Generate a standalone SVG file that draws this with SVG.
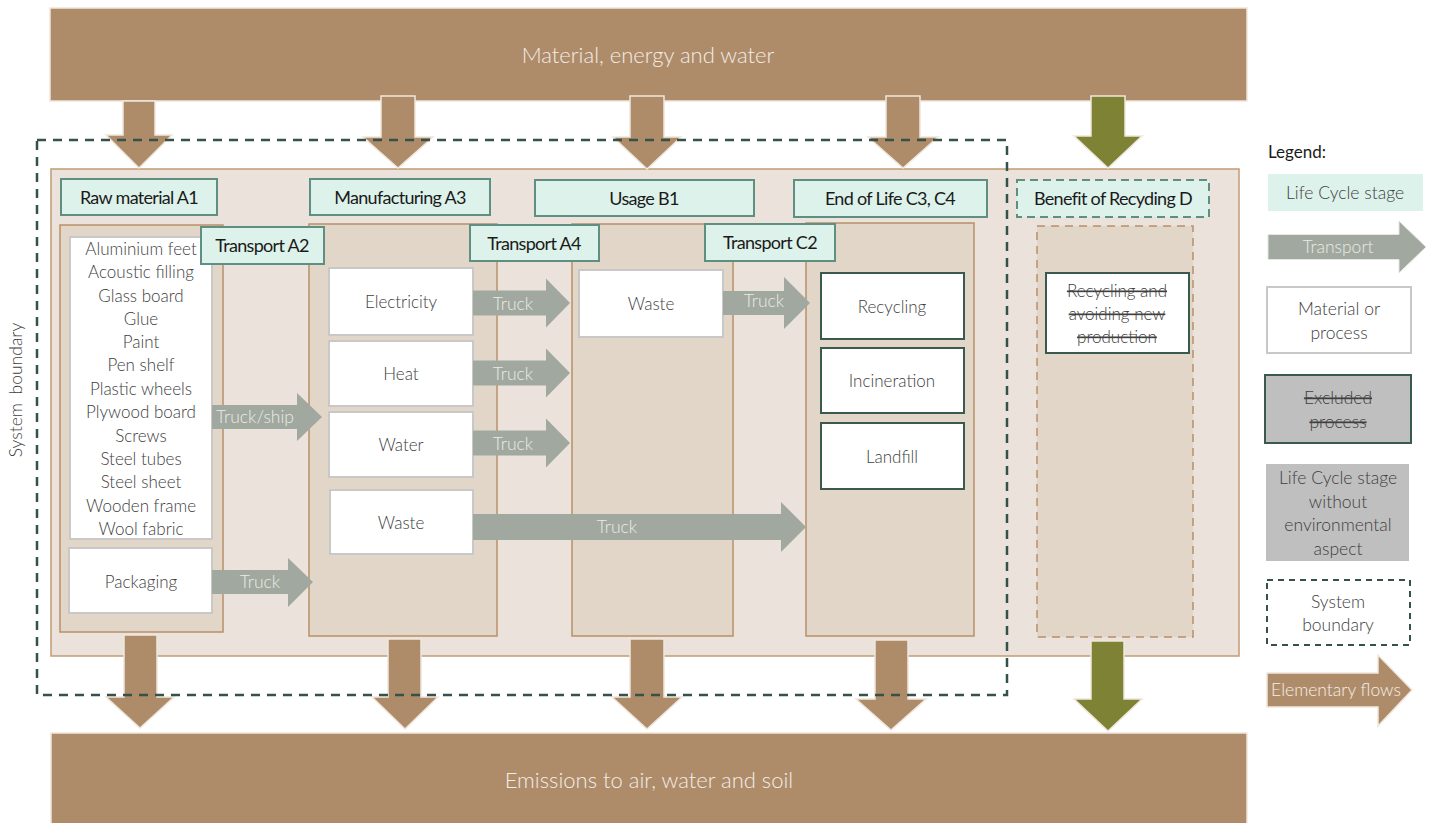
<svg xmlns="http://www.w3.org/2000/svg" width="1435" height="823" viewBox="0 0 1435 823">
<style>
.bar{fill:#AE8C6A;stroke:#EFE6DC;stroke-width:1.5}
.barTxt{font-family:Lato,"Open Sans","Liberation Sans",sans-serif;font-weight:300;font-size:22px;fill:#F3EDE6;text-anchor:middle}
.flow{fill:#AE8C6A;stroke:#F0E6DC;stroke-width:1.5}
.green{fill:#7E8235;stroke:#F0E6DC;stroke-width:1.5}
.truck{fill:#A1A89F}
.truckTxt{font-family:Lato,"Open Sans","Liberation Sans",sans-serif;font-weight:300;font-size:17.5px;fill:#E9ECE6;text-anchor:middle}
.outer{fill:#EAE2DB;stroke:#C19C74;stroke-width:1.5}
.col{fill:#E2D6C9;stroke:#B8906A;stroke-width:1.5}
.stage{fill:#DDF2EA;stroke:#5F8F80;stroke-width:2}
.stageTxt{font-family:Lato,"Open Sans","Liberation Sans",sans-serif;font-size:18px;fill:#1A1A1A;text-anchor:middle;letter-spacing:-0.7px}
.mat{fill:#FFFFFF;stroke:#C8C8C8;stroke-width:2}
.proc{fill:#FFFFFF;stroke:#3A5A4E;stroke-width:2}
.txt{font-family:Lato,"Open Sans","Liberation Sans",sans-serif;font-weight:300;font-size:17px;fill:#404040;text-anchor:middle}
.lg{font-size:17.5px}
.strike{text-decoration:line-through}
.boundary{fill:none;stroke:#35524A;stroke-width:2.5;stroke-dasharray:9 7}
</style>

<g id="top-bar">
<rect class="bar" x="50" y="8" width="1197" height="93"/>
<text class="barTxt" x="648" y="63">Material, energy and water</text>
</g>
<g id="bottom-bar">
<rect class="bar" x="51" y="733" width="1196" height="95"/>
<text class="barTxt" x="649" y="788">Emissions to air, water and soil</text>
</g>

<g id="main-panel">
<rect class="outer" x="51" y="169" width="1188" height="487"/>
</g>

<g id="col-a1"><rect class="col" x="60" y="225" width="163" height="407"/></g>
<g id="col-a3"><rect class="col" x="309" y="224" width="188" height="412"/></g>
<g id="col-b1"><rect class="col" x="572" y="224" width="161" height="412"/></g>
<g id="col-c"><rect class="col" x="806" y="223" width="168" height="413"/></g>
<g id="col-d"><rect class="col" x="1037" y="226" width="156" height="411" style="stroke-dasharray:8 6"/></g>

<g id="materials">
<rect class="mat" x="70" y="237" width="142" height="302"/>
<text class="txt" x="141" y="255">Aluminium feet</text>
<text class="txt" x="141" y="278">Acoustic filling</text>
<text class="txt" x="141" y="302">Glass board</text>
<text class="txt" x="141" y="325">Glue</text>
<text class="txt" x="141" y="348">Paint</text>
<text class="txt" x="141" y="371">Pen shelf</text>
<text class="txt" x="141" y="395">Plastic wheels</text>
<text class="txt" x="141" y="418">Plywood board</text>
<text class="txt" x="141" y="442">Screws</text>
<text class="txt" x="141" y="465">Steel tubes</text>
<text class="txt" x="141" y="488">Steel sheet</text>
<text class="txt" x="141" y="512">Wooden frame</text>
<text class="txt" x="141" y="535">Wool fabric</text>
</g>
<g id="packaging"><rect class="mat" x="69" y="548" width="143" height="65"/><text class="txt" x="141" y="588">Packaging</text></g>

<g id="electricity"><rect class="mat" x="329" y="268" width="144" height="67"/><text class="txt" x="401" y="308">Electricity</text></g>
<g id="heat"><rect class="mat" x="329" y="341" width="144" height="65"/><text class="txt" x="401" y="380">Heat</text></g>
<g id="water"><rect class="mat" x="329" y="412" width="144" height="65"/><text class="txt" x="401" y="451">Water</text></g>
<g id="waste-a3"><rect class="mat" x="330" y="490" width="143" height="64"/><text class="txt" x="401" y="529">Waste</text></g>

<g id="waste-b1"><rect class="mat" x="579" y="270" width="144" height="67"/><text class="txt" x="651" y="310">Waste</text></g>

<g id="recycling"><rect class="proc" x="821" y="273" width="143" height="66"/><text class="txt" x="892" y="313">Recycling</text></g>
<g id="incineration"><rect class="proc" x="821" y="348" width="143" height="65"/><text class="txt" x="892" y="387">Incineration</text></g>
<g id="landfill"><rect class="proc" x="821" y="423" width="143" height="66"/><text class="txt" x="892" y="463">Landfill</text></g>

<g id="recycling-d"><rect class="proc" x="1046" y="273" width="143" height="80"/>
<text class="txt strike" x="1117" y="297">Recycling and</text>
<text class="txt strike" x="1117" y="320">avoiding new</text>
<text class="txt strike" x="1117" y="343">production</text>
</g>

<g id="stage-a1"><rect class="stage" x="61" y="179" width="156" height="36"/><text class="stageTxt" x="139" y="204">Raw material A1</text></g>
<g id="stage-a3"><rect class="stage" x="310" y="179" width="180" height="36"/><text class="stageTxt" x="400" y="204">Manufacturing A3</text></g>
<g id="stage-b1"><rect class="stage" x="535" y="180" width="219" height="36"/><text class="stageTxt" x="644" y="205">Usage B1</text></g>
<g id="stage-c"><rect class="stage" x="794" y="180" width="193" height="37"/><text class="stageTxt" x="890" y="205">End of Life C3, C4</text></g>
<g id="stage-d"><rect class="stage" x="1017" y="180" width="192" height="37" style="stroke-dasharray:8 5"/><text class="stageTxt" x="1113" y="205">Benefit of Recyding D</text></g>
<g id="transport-a2"><rect class="stage" x="201" y="227" width="123" height="37"/><text class="stageTxt" x="262" y="252">Transport A2</text></g>
<g id="transport-a4"><rect class="stage" x="470" y="225" width="129" height="36"/><text class="stageTxt" x="534" y="250">Transport A4</text></g>
<g id="transport-c2"><rect class="stage" x="705" y="224" width="130" height="37"/><text class="stageTxt" x="770" y="249">Transport C2</text></g>

<g id="connectors">
<path class="truck" d="M212 405 H297 V393 L322 417 L297 441 V429 H212 Z"/>
<text class="truckTxt" x="255" y="423">Truck/ship</text>
<path class="truck" d="M212 570 H288 V558 L313 582 L288 607 V594 H212 Z"/>
<text class="truckTxt" x="260" y="588">Truck</text>
<path class="truck" d="M473 290.5 H546 V278.5 L570 303 L546 327.5 V315.5 H473 Z"/>
<text class="truckTxt" x="513" y="310">Truck</text>
<path class="truck" d="M473 360.5 H546 V348.5 L570 373 L546 397.5 V385.5 H473 Z"/>
<text class="truckTxt" x="513" y="380">Truck</text>
<path class="truck" d="M473 430.5 H546 V418.5 L570 443 L546 467.5 V455.5 H473 Z"/>
<text class="truckTxt" x="513" y="450">Truck</text>
<path class="truck" d="M473 514 H781 V502 L806 527 L781 552 V540 H473 Z"/>
<text class="truckTxt" x="617" y="533">Truck</text>
<path class="truck" d="M723 291 H784 V277 L810 303 L784 329 V315 H723 Z"/>
<text class="truckTxt" x="764" y="307">Truck</text>

<path class="flow" d="M123 101 H155 V135 H172 L139 168 L106 135 H123 Z"/>
<path class="flow" d="M381 96 H415 V137 H433 L398 168 L363 137 H381 Z"/>
<path class="flow" d="M630 96 H664 V137 H681 L647 169 L613 137 H630 Z"/>
<path class="flow" d="M886 96 H920 V137 H938 L903 168 L868 137 H886 Z"/>
<path class="green" d="M1091 96 H1125 V136 H1142 L1108 168 L1074 136 H1091 Z"/>

<path class="flow" d="M124 635 H157 V697 H174 L140 728 L106 697 H124 Z"/>
<path class="flow" d="M388 639 H421 V697 H438 L405 729 L372 697 H388 Z"/>
<path class="flow" d="M630 639 H664 V697 H682 L647 729 L612 697 H630 Z"/>
<path class="flow" d="M875 640 H908 V699 H926 L891 730 L856 699 H875 Z"/>
<path class="green" d="M1091 641 H1124 V699 H1142 L1108 731 L1074 699 H1091 Z"/>
</g>

<g id="system-boundary">
<rect class="boundary" x="37" y="140" width="970" height="555"/>
<text class="txt" x="0" y="0" transform="translate(22 390) rotate(-90)" style="font-size:17.5px;word-spacing:4px">System boundary</text>
</g>

<g id="legend">
<text x="1268" y="158" style="font-family:Lato,'Open Sans','Liberation Sans',sans-serif;font-size:17px;fill:#1A1A1A">Legend:</text>
<rect x="1268" y="174" width="155" height="37" fill="#DDF2EA"/>
<text class="txt lg" x="1345" y="199">Life Cycle stage</text>
<path class="truck" d="M1268 234.5 H1399 V221 L1426 247 L1399 273 V259.5 H1268 Z" style="stroke:#E6E6E0;stroke-width:1"/>
<text class="truckTxt" x="1338" y="253">Transport</text>
<rect class="mat" x="1267" y="287" width="144" height="66"/>
<text class="txt lg" x="1339" y="315">Material or</text>
<text class="txt lg" x="1339" y="339">process</text>
<rect x="1265" y="375" width="146" height="68" fill="#BFBFBF" stroke="#3A5A4E" stroke-width="2"/>
<text class="txt strike lg" x="1338" y="404">Excluded</text>
<text class="txt strike lg" x="1338" y="428">process</text>
<rect x="1266" y="464" width="143" height="97" fill="#BFBFBF"/>
<text class="txt lg" x="1338" y="484">Life Cycle stage</text>
<text class="txt lg" x="1338" y="508">without</text>
<text class="txt lg" x="1338" y="531">environmental</text>
<text class="txt lg" x="1338" y="555">aspect</text>
<rect x="1267" y="580" width="143" height="65" fill="#FFFFFF" stroke="#35524A" stroke-width="2" stroke-dasharray="6 5"/>
<text class="txt lg" x="1338" y="608">System</text>
<text class="txt lg" x="1338" y="631">boundary</text>
<path class="flow" d="M1267 673 H1378 V655 L1412 690 L1378 726 V707 H1267 Z"/>
<text class="truckTxt" x="1336" y="696" style="fill:#F5EFE8">Elementary flows</text>
</g>
</svg>
